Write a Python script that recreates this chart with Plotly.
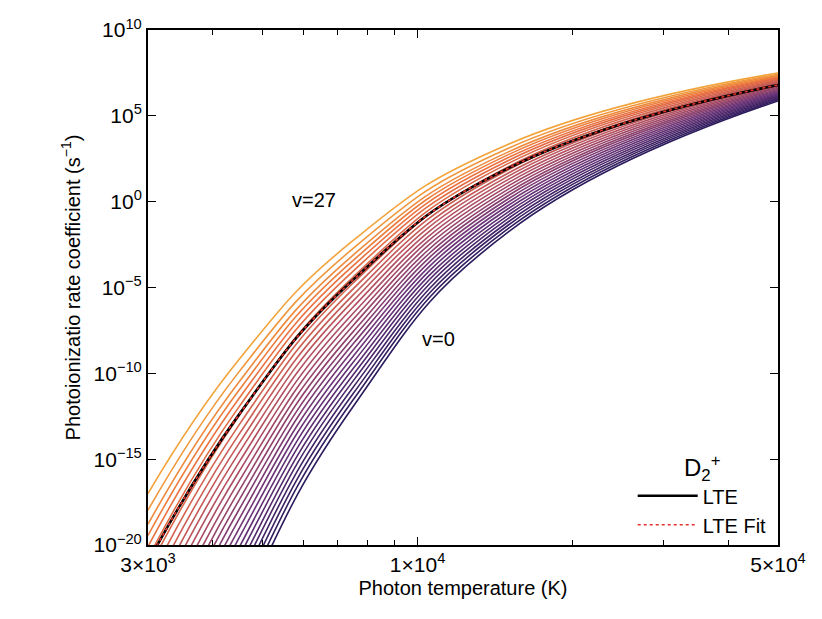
import numpy as np
import plotly.graph_objects as go
from plotly.colors import sample_colorscale

temps = [3000, 4500, 7500, 15000, 50000]

# log10 of photoionization rate coefficient, one row per vibrational level v=0..27
log_rates = [
    [-37.30, -24.15, -11.93, -1.76, 5.87],
    [-36.49, -23.55, -11.54, -1.56, 5.94],
    [-35.72, -22.98, -11.18, -1.36, 6.00],
    [-34.95, -22.42, -10.81, -1.17, 6.06],
    [-34.17, -21.85, -10.44, -0.97, 6.12],
    [-33.42, -21.30, -10.08, -0.78, 6.18],
    [-32.65, -20.73, -9.72, -0.59, 6.24],
    [-31.90, -20.18, -9.36, -0.40, 6.30],
    [-31.15, -19.62, -9.00, -0.21, 6.36],
    [-30.40, -19.07, -8.64, -0.02, 6.42],
    [-29.65, -18.52, -8.28, 0.17, 6.48],
    [-28.90, -17.96, -7.93, 0.36, 6.54],
    [-28.14, -17.41, -7.57, 0.54, 6.61],
    [-27.39, -16.86, -7.21, 0.73, 6.67],
    [-26.64, -16.31, -6.85, 0.92, 6.73],
    [-25.89, -15.75, -6.50, 1.11, 6.79],
    [-25.14, -15.20, -6.14, 1.30, 6.85],
    [-24.39, -14.65, -5.78, 1.49, 6.91],
    [-23.66, -14.11, -5.43, 1.67, 6.97],
    [-22.93, -13.57, -5.08, 1.86, 7.02],
    [-22.20, -13.03, -4.74, 2.04, 7.08],
    [-21.47, -12.50, -4.39, 2.23, 7.14],
    [-20.76, -11.97, -4.05, 2.40, 7.20],
    [-20.09, -11.48, -3.73, 2.57, 7.25],
    [-19.44, -11.00, -3.42, 2.74, 7.30],
    [-18.79, -10.52, -3.11, 2.90, 7.36],
    [-17.97, -9.93, -2.72, 3.11, 7.42],
    [-17.00, -9.21, -2.26, 3.35, 7.50],
]

lte_log = [-21.0, -12.42, -4.55, 1.95, 6.8]
lte_fit_log = [-21.0, -12.42, -4.55, 1.95, 6.8]

ytick_vals = [1e-20, 1e-15, 1e-10, 1e-5, 1e0, 1e5, 1e10]
ytick_text = ["10<sup>−20</sup>", "10<sup>−15</sup>", "10<sup>−10</sup>", "10<sup>−5</sup>",
              "10<sup>0</sup>", "10<sup>5</sup>", "10<sup>10</sup>"]
xtick_vals = [3000, 10000, 50000]
xtick_text = ["3×10<sup>3</sup>", "1×10<sup>4</sup>", "5×10<sup>4</sup>"]

scale = [[0, "#2b1b5c"], [0.3, "#6a3478"], [0.6, "#b5505f"], [0.85, "#ea7040"], [1, "#f2a33a"]]
colors = sample_colorscale(scale, [v / 27 for v in range(28)])

fig = go.Figure()
for v, row in enumerate(log_rates):
    fig.add_trace(go.Scatter(x=temps, y=10 ** np.array(row), mode="lines",
                             line=dict(color=colors[v], width=1.6, shape="spline", smoothing=1.3),
                             showlegend=False, hoverinfo="skip"))

fig.add_trace(go.Scatter(x=temps, y=10 ** np.array(lte_log), mode="lines", name="LTE",
                         line=dict(color="black", width=2.6, shape="spline", smoothing=1.3)))
fig.add_trace(go.Scatter(x=temps, y=10 ** np.array(lte_fit_log), mode="lines", name="LTE Fit",
                         line=dict(color="#e8302a", width=1.6, dash="dot", shape="spline",
                                   smoothing=1.3)))

fig.add_annotation(x=np.log10(6300), y=0.1, text="v=27", showarrow=False,
                   font=dict(size=20))
fig.add_annotation(x=np.log10(11000), y=-8.0, text="v=0", showarrow=False,
                   font=dict(size=20))

axis_common = dict(showgrid=False, zeroline=False, showline=True, linecolor="black",
                   linewidth=2, mirror="ticks", ticks="inside", ticklen=8,
                   tickcolor="black", tickfont=dict(size=21))
fig.update_xaxes(type="log", range=[np.log10(3000), np.log10(50000)],
                 tickvals=xtick_vals, ticktext=xtick_text,
                 minor=dict(ticks="inside", ticklen=5, tickcolor="black",
                            tickvals=[4000, 5000, 6000, 7000, 8000, 9000, 20000, 30000, 40000]),
                 title=dict(text="Photon temperature (K)", font=dict(size=20), standoff=6),
                 **axis_common)
fig.update_yaxes(type="log", range=[-20, 10], tickvals=ytick_vals, ticktext=ytick_text,
                 title=dict(text="Photoionizatio rate coefficient (s<sup>−1</sup>)",
                            font=dict(size=20), standoff=8),
                 **axis_common)

fig.update_layout(
    width=822, height=619,
    margin=dict(l=140, r=52, t=22, b=82, autoexpand=False),
    plot_bgcolor="white", paper_bgcolor="white",
    font=dict(family="Liberation Sans, Arial, sans-serif", color="black", size=20),
    legend=dict(x=0.99, y=0.0, xanchor="right", yanchor="bottom",
                bgcolor="rgba(0,0,0,0)", font=dict(size=20),
                title=dict(text="D<sub>2</sub><sup>+</sup>", side="top center"),
                itemwidth=60),
)

fig.write_html("out.html")
